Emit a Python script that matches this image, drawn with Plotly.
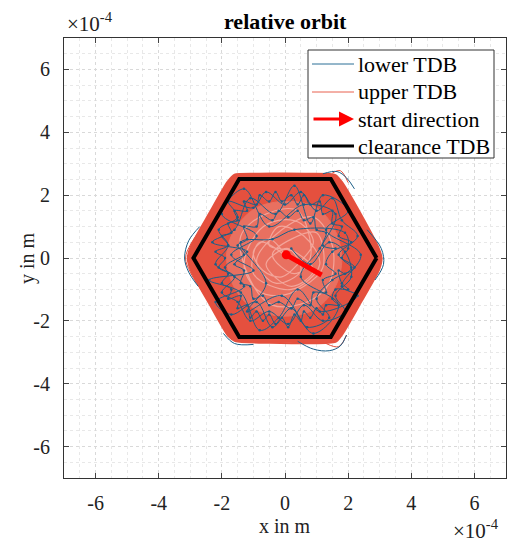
import plotly.graph_objects as go

SCALE = 1e-4

# clearance TDB hexagon (units of 1e-4 m)
hex_x = [2.9, 1.45, -1.45, -2.9, -1.45, 1.45, 2.9]
hex_y = [0.0, 2.51, 2.51, 0.0, -2.51, -2.51, 0.0]

# outline of the dense upper-TDB cloud (units of 1e-4 m)
upper_env_x = [3.06, 2.95, 2.4, 1.8, 1.6, 0.8, 0.0, -0.8, -1.6, -1.82, -2.4, -2.98, -3.08, -2.98, -2.4,
               -1.8, -1.58, -0.5, 0.5, 1.6, 1.82, 2.4, 2.98, 3.06]
upper_env_y = [0.0, 0.35, 1.4, 2.42, 2.64, 2.68, 2.69, 2.68, 2.65, 2.42, 1.42, 0.38, 0.0, -0.4, -1.45,
               -2.48, -2.64, -2.7, -2.71, -2.67, -2.42, -1.42, -0.37, 0.0]

# inner, more open part of the cloud (units of 1e-4 m)
inner_x = [1.8, 1.55, 1.0, 0.1, -0.9, -1.6, -1.85, -1.6, -1.0, 0.0, 1.0, 1.6, 1.8]
inner_y = [0.0, 0.95, 1.6, 1.8, 1.6, 0.9, 0.05, -0.95, -1.6, -1.85, -1.6, -0.9, 0.0]

# lower TDB trajectory inside the cloud (units of 1e-4 m)
lower_x = [0.2, 0.8, 1.4, 1.9, 2.1, 1.6, 1.9, 1.2, 0.6, 0.1, -0.5, -1.1, -1.5, -2.0, -1.6, -2.2, -1.8, -2.1,
           -1.5, -1.8, -1.0, -0.6, 0.0, 0.5, 1.0, 1.5, 1.8, 2.3, 1.7, 2.2, 1.5, 1.0, 1.4, 0.7, 0.2, -0.4,
           -0.9, -1.7, -2.2, -1.3, -1.9, -1.2, -2.3, -1.6, -1.1, -0.3, 0.3, 0.8, 1.2, 2.0, 1.3, 2.4, 1.8,
           2.3, 1.1, 0.4, -0.2, -0.8, -1.4, -2.4, -1.0, -1.7, -0.9, -2.0, -1.3, -0.5, 0.6, 1.6, 1.1, 0.5,
           1.7, 0.9, -0.1, -1.2, -0.6, -1.4, -0.4, 0.3, 1.9,
           2.0, 1.8, 2.1, 1.9, 1.7, 1.8, 2.0, 1.6, 1.5, 1.7, 1.3, 1.2, 1.0, 0.8, 0.6, 0.5, 0.3, 0.1, -0.1,
           -0.3, -0.5, -0.7, -0.9, -1.1, -1.2, -1.5, -1.4, -1.8, -1.7, -2.0, -1.8, -2.1, -1.9, -2.2, -1.8,
           -2.0, -1.7, -1.8, -1.5, -1.6, -1.2, -1.3, -0.9, -0.8, -0.5, -0.3, -0.1, 0.2, 0.4, 0.6, 0.8, 1.1,
           1.2, 1.5, 1.5, 1.8, 1.7, 2.1,
           1.5, 1.3, 1.6, 1.2, 1.3, 0.9, 0.8, 0.4, 0.2, -0.2, -0.5, -0.7, -1.0, -1.1, -1.4, -1.3, -1.6,
           -1.3, -1.5, -1.2, -1.3, -0.9, -0.8, -0.4, -0.2, 0.1, 0.4, 0.6, 0.9, 1.0, 1.3, 1.2, 1.6]
lower_y = [0.3, -0.2, 0.5, 0.2, -0.6, -1.2, -1.7, -2.0, -1.5, -2.1, -1.7, -2.0, -1.4, -1.1, -0.6, -0.2, 0.4,
           0.9, 1.3, 1.8, 1.6, 2.1, 1.7, 2.1, 1.5, 1.9, 1.2, 0.7, 0.1, -0.3, -0.7, -1.3, -1.9, -2.2, -1.6,
           -2.2, -1.4, -1.8, -1.4, -0.9, -0.3, 0.2, 0.5, 0.9, 1.9, 1.4, 2.3, 1.1, 2.0, 1.5, 0.9, 0.1, -0.9,
           -1.2, -1.7, -1.0, -1.9, -2.3, -1.1, -0.7, -0.4, 0.1, 0.7, 1.4, 2.2, 1.0, 1.7, 1.4, 0.3, -0.6,
           -1.5, -2.4, -1.2, -1.7, -0.8, 0.5, 0.6, 0.9, 0.8,
           0.3, 0.0, -0.3, -0.5, -0.4, -0.8, -1.0, -1.0, -1.3, -1.5, -1.5, -1.8, -1.6, -1.9, -1.7, -2.0,
           -1.8, -2.2, -1.9, -2.1, -1.8, -2.0, -1.7, -1.9, -1.5, -1.6, -1.2, -1.3, -1.0, -0.8, -0.5, -0.3,
           0.0, 0.2, 0.4, 0.7, 0.8, 1.1, 1.2, 1.5, 1.5, 1.8, 1.7, 2.0, 1.8, 2.1, 1.8, 2.0, 1.7, 2.0, 1.7,
           1.8, 1.4, 1.5, 1.1, 1.0, 0.7, 0.5,
           0.2, -0.2, -0.5, -0.7, -1.1, -1.1, -1.5, -1.3, -1.6, -1.4, -1.5, -1.2, -1.3, -0.9, -0.8, -0.4,
           -0.2, 0.1, 0.4, 0.6, 1.0, 1.0, 1.4, 1.2, 1.5, 1.3, 1.5, 1.2, 1.3, 0.9, 0.8, 0.4, 0.3]

# lower TDB excursions just outside the cloud outline (units of 1e-4 m)
lower_out_x = [-2.7, -3.05, -3.18, -3.05, -2.75, None, 1.2, 1.65, 1.95, 2.2, None,
               0.4, 0.9, 1.4, 1.75, 1.95, None, -1.95, -1.6, -1.0, None, 2.6, 3.05, 3.12, 2.85]
lower_out_y = [1.0, 0.55, 0.0, -0.45, -0.9, None, 2.68, 2.75, 2.55, 2.2, None,
               -2.65, -2.9, -2.95, -2.8, -2.45, None, -2.4, -2.72, -2.75, None, 0.9, 0.3, -0.2, -0.7]

# upper TDB trajectory (units of 1e-4 m)
upper_x = [0.0, -0.5, -1.0, -0.7, -0.1, 0.4, 0.9, 0.5, -0.2, -0.8, -1.3, -0.9, -0.2, 0.6, 1.2, 1.0, 0.2,
           -0.4, 0.3, 0.8, 0.4, -0.6, -1.4, -1.1, -0.4, 0.7, 1.4, 1.5, 0.9, -0.1, -0.9, -0.3, 0.5, 0.1,
           -0.6, 0.2, 0.9, 0.3, -0.5, -0.2, 0.6, 1.1, 0.2, -1.0, -0.8, 0.1]
upper_y = [0.1, 0.6, 0.2, -0.4, -0.6, -0.2, 0.5, 1.1, 1.2, 0.9, -0.2, -1.0, -1.2, -0.9, -0.3, 0.8, 0.6,
           0.1, -0.5, 0.0, 1.5, 1.4, 0.7, -0.7, -1.5, -1.4, -0.8, 0.4, 1.3, 0.9, -0.1, -0.8, -0.4, 0.3,
           -0.2, -0.9, -0.4, 0.2, 0.4, 1.0, 0.7, -0.2, -1.0, -0.5, 0.5, 0.0]

# upper TDB strays just outside the cloud outline (units of 1e-4 m)
upper_out_x = [-2.6, -2.98, -3.15, -3.0, -2.6, None, 1.3, 1.7, 1.95, None, 1.5, 1.75, 2.0]
upper_out_y = [1.0, 0.45, 0.0, -0.45, -1.1, None, -2.72, -2.82, -2.45, None, 2.7, 2.78, 2.4]

# start direction arrow (units of 1e-4 m): tail then head
arrow_x = [1.16, 0.04]
arrow_y = [-0.54, 0.1]

tick_vals = [-6, -4, -2, 0, 2, 4, 6]
tick_text = ["-6", "-4", "-2", "0", "2", "4", "6"]

RED = "#E5503E"
BLUE = "#1C5F88"
FONT = "Liberation Serif"


def s(v):
    return [None if a is None else a * SCALE for a in v]


fig = go.Figure()
fig.add_trace(go.Scatter(x=s(upper_env_x), y=s(upper_env_y), mode="lines", fill="toself",
                         fillcolor=RED, line=dict(color=RED, width=2, shape="spline", smoothing=0.6),
                         showlegend=False, hoverinfo="skip"))
fig.add_trace(go.Scatter(x=s(inner_x), y=s(inner_y), mode="lines", fill="toself",
                         fillcolor="#E97060", line=dict(color="#E97060", width=1, shape="spline"),
                         showlegend=False, hoverinfo="skip"))
fig.add_trace(go.Scatter(x=s(upper_x), y=s(upper_y), mode="lines",
                         line=dict(color="#F3A59A", width=1.2, shape="spline"), name="upper TDB",
                         showlegend=False))
fig.add_trace(go.Scatter(x=s(upper_out_x), y=s(upper_out_y), mode="lines",
                         line=dict(color=RED, width=1, shape="spline"), showlegend=False,
                         hoverinfo="skip"))
fig.add_trace(go.Scatter(x=s(lower_x), y=s(lower_y), mode="lines+markers",
                         line=dict(color=BLUE, width=1, shape="spline", smoothing=1.0),
                         marker=dict(color=BLUE, size=2.5),
                         name="lower TDB", showlegend=False))
fig.add_trace(go.Scatter(x=s(lower_out_x), y=s(lower_out_y), mode="lines",
                         line=dict(color=BLUE, width=1, shape="spline"), showlegend=False,
                         hoverinfo="skip"))
fig.add_trace(go.Scatter(x=s(hex_x), y=s(hex_y), mode="lines",
                         line=dict(color="black", width=4), name="clearance TDB", showlegend=False))
fig.add_trace(go.Scatter(x=s(arrow_x), y=s(arrow_y), mode="lines",
                         line=dict(color="#FF0000", width=5), name="start direction", showlegend=False))
fig.add_trace(go.Scatter(x=s(arrow_x[1:]), y=s(arrow_y[1:]), mode="markers",
                         marker=dict(color="#FF0000", size=9), showlegend=False, hoverinfo="skip"))

axis_common = dict(
    range=[-7 * SCALE, 7 * SCALE], tickvals=s(tick_vals), ticktext=tick_text,
    ticks="inside", ticklen=5, tickcolor="#444", tickwidth=1,
    showline=True, linecolor="#333", linewidth=1, mirror="allticks",
    showgrid=True, gridcolor="#d9d9d9", griddash="dot", gridwidth=1,
    zeroline=False, tickfont=dict(family=FONT, size=20, color="#222"),
    minor=dict(dtick=0.5 * SCALE, showgrid=True, gridcolor="#e8e8e8", griddash="dot", ticks=""),
)
fig.update_xaxes(**axis_common, ticklabelstandoff=7)
fig.update_yaxes(**axis_common, ticklabelstandoff=9)

W, H = 511, 542
L, R, T, B = 64, 5, 38, 64
PW, PH = W - L - R, H - T - B


def px(xp):
    return (xp - L) / PW


def py(yp):
    return (H - B - yp) / PH


annotations = [
    dict(text="<b>relative orbit</b>", x=0.5, y=py(22), xref="paper", yref="paper",
         showarrow=False, font=dict(family=FONT, size=22, color="black"), xanchor="center", yanchor="middle"),
    dict(text="×10<sup>-4</sup>", x=px(65), y=py(23), xref="paper", yref="paper", showarrow=False,
         font=dict(family=FONT, size=21, color="#222"), xanchor="left", yanchor="middle"),
    dict(text="×10<sup>-4</sup>", x=px(451), y=py(529), xref="paper", yref="paper", showarrow=False,
         font=dict(family=FONT, size=21, color="#222"), xanchor="left", yanchor="middle"),
    dict(text="x in m", x=0.5, y=py(526), xref="paper", yref="paper", showarrow=False,
         font=dict(family=FONT, size=20, color="#222"), xanchor="center", yanchor="middle"),
    dict(text="y in m", x=px(27), y=0.5, xref="paper", yref="paper", showarrow=False, textangle=-90,
         font=dict(family=FONT, size=20, color="#222"), xanchor="center", yanchor="middle"),
]

# custom legend
shapes = [dict(type="rect", xref="paper", yref="paper", x0=px(308), x1=px(494), y0=py(158), y1=py(50),
               fillcolor="white", line=dict(color="#333", width=1), layer="above")]
leg_rows = [("lower TDB", "#2A6E96", 1, 64), ("upper TDB", "#E8604F", 1, 92),
            ("start direction", "#FF0000", 3, 119), ("clearance TDB", "black", 3, 146)]
for label, col, w, yy in leg_rows:
    if label == "start direction":
        annotations.append(dict(x=px(354), y=py(yy), xref="paper", yref="paper", ax=-42, ay=0,
                                showarrow=True, arrowhead=2, arrowsize=1, arrowwidth=3,
                                arrowcolor=col, text=""))
    else:
        shapes.append(dict(type="line", xref="paper", yref="paper", x0=px(312), x1=px(354),
                           y0=py(yy), y1=py(yy), line=dict(color=col, width=w), layer="above"))
    annotations.append(dict(text=label, x=px(356), y=py(yy), xref="paper", yref="paper",
                            showarrow=False, xanchor="left", yanchor="middle",
                            font=dict(family=FONT, size=22, color="black")))

fig.update_layout(
    width=W, height=H, margin=dict(l=L, r=R, t=T, b=B),
    paper_bgcolor="white", plot_bgcolor="white",
    showlegend=False, annotations=annotations, shapes=shapes,
)

fig.write_html("out.html")
